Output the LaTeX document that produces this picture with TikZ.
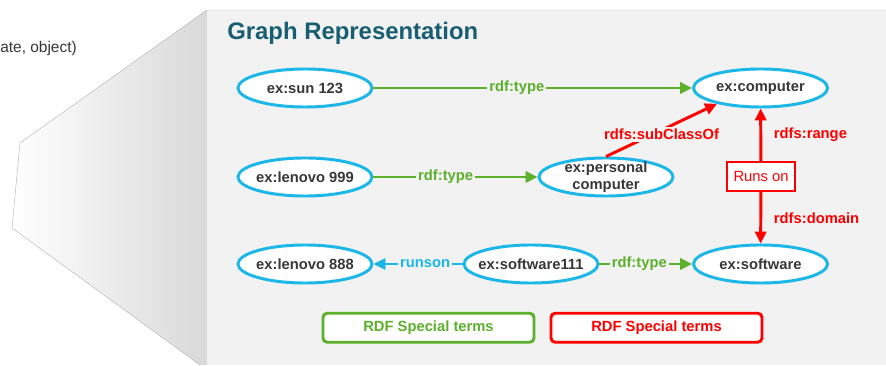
\documentclass[tikz,border=0pt]{standalone}
\usepackage{fontspec}
\setmainfont{Liberation Sans}
\usetikzlibrary{arrows.meta,shapes.geometric}

\definecolor{panelgray}{RGB}{242,242,242}
\definecolor{darktext}{RGB}{56,56,56}
\definecolor{titleteal}{RGB}{24,94,114}
\definecolor{rdfcyan}{RGB}{27,183,232}
\definecolor{rdfgreen}{RGB}{92,176,44}
\definecolor{rdfred}{RGB}{255,0,0}

\begin{document}
\begin{tikzpicture}[
    resnode/.style={ellipse, draw=rdfcyan, line width=2.1pt, fill=white,
        minimum width=3.35cm, minimum height=0.95cm, inner sep=-4pt,
        text=darktext, align=center,
        font=\fontsize{10.5}{12.5}\selectfont\bfseries},
    edgelabel/.style={fill=panelgray, inner sep=1.5pt,
        font=\fontsize{10.5}{12.5}\selectfont\bfseries},
    typeedge/.style={rdfgreen, line width=2.1pt,
        -{Triangle[length=8.5pt,width=8pt]}},
    schemaedge/.style={rdfred, line width=2.1pt,
        -{Triangle[length=8.5pt,width=8pt]}},
    legendbox/.style={draw, line width=2.1pt, fill=white, rounded corners=3pt,
        minimum width=5.275cm, minimum height=0.725cm,
        font=\fontsize{10.5}{12.5}\selectfont\bfseries}
]

\useasboundingbox (0,0) rectangle (22.15,9.125);

\def\rowa{6.925} % rows of the graph
\def\rowb{4.7}
\def\rowc{2.525}

% zoom wedge and panel
\shade[left color=white, right color=black!15]
    (5.175,8.875) -- (0.5,5.55) -- (0.3,3.425) -- (5.0,0) -- (5.175,0) -- cycle;
\draw[black!30, line width=0.3pt]
    (5.175,8.875) -- (0.5,5.55) -- (0.3,3.425) -- (5.0,0);
\fill[panelgray] (5.175,0) rectangle (22.15,8.875);
\draw[black!10, line width=0.6pt] (5.175,8.875) -- (22.15,8.875);

\node[anchor=base west, inner sep=0pt, text=darktext,
    font=\fontsize{11}{13}\selectfont] (cuttext) at (0,7.8) {ate, object)};
\node[anchor=base west, inner sep=0pt, text=titleteal,
    font=\fontsize{17}{20}\selectfont\bfseries] (title) at (5.675,8.125)
    {Graph Representation};

% resources
\node[resnode] (sun) at (7.625,\rowa) {ex:sun 123};
\node[resnode] (computer) at (19.0125,\rowa) {ex:computer};
\node[resnode] (lenovoa) at (7.625,\rowb) {ex:lenovo 999};
\node[resnode] (personal) at (15.15,\rowb) {ex:personal\\computer};
\node[resnode] (lenovob) at (7.625,\rowc) {ex:lenovo 888};
\node[resnode] (softwarea) at (13.275,\rowc) {ex:software111};
\node[resnode] (software) at (19.0125,\rowc) {ex:software};

% property box
\node[draw=rdfred, line width=1.5pt, fill=white, text=rdfred,
    minimum width=1.7cm, minimum height=0.725cm,
    font=\fontsize{10.5}{12.5}\selectfont] (runson) at (19.025,4.7125) {Runs on};

% typing edges
\draw[typeedge] (sun) -- node[edgelabel, pos=0.45, text=rdfgreen] {rdf:type} (computer);
\draw[typeedge] (lenovoa) -- node[edgelabel, pos=0.44, text=rdfgreen] {rdf:type} (personal);
\draw[typeedge] (softwarea) -- node[edgelabel, pos=0.43, text=rdfgreen] {rdf:type} (software);
\draw[rdfcyan, line width=2.1pt, -{Triangle[length=8.5pt,width=8pt]}]
    (softwarea) -- node[edgelabel, pos=0.42, text=rdfcyan] {runson} (lenovob);

% schema edges
\draw[schemaedge] (personal.north) -- node[edgelabel, midway, yshift=-0.1cm, text=rdfred]
    {rdfs:subClassOf} (computer.200);
\draw[schemaedge] (runson) -- node[midway, right=5pt, text=rdfred,
    font=\fontsize{10.5}{12.5}\selectfont\bfseries] {rdfs:range} (computer);
\draw[schemaedge] (runson) -- node[midway, right=5pt, text=rdfred,
    font=\fontsize{10.5}{12.5}\selectfont\bfseries] {rdfs:domain} (software);

% legend
\node[legendbox, draw=rdfgreen, text=rdfgreen] (legendtype) at (10.7125,0.9312) {RDF Special terms};
\node[legendbox, draw=rdfred, text=rdfred] (legendschema) at (16.4125,0.9312) {RDF Special terms};

\end{tikzpicture}
\end{document}
